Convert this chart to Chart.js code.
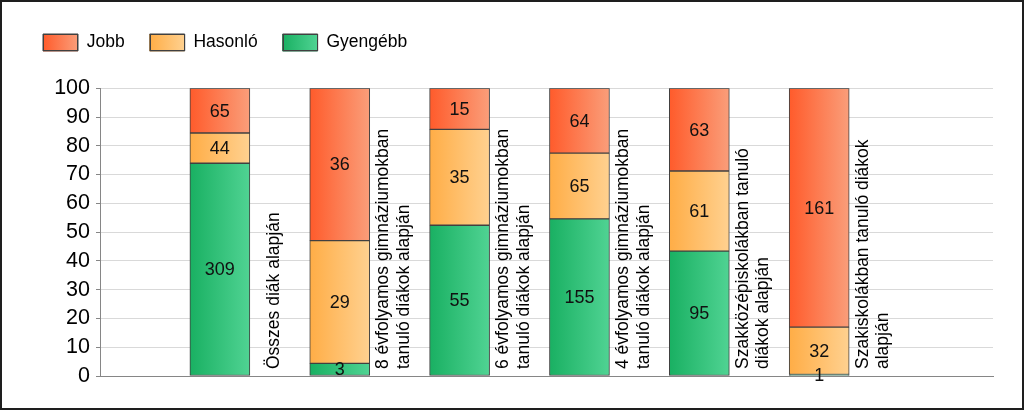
<!DOCTYPE html>
<html>
<head>
<meta charset="utf-8">
<script src="https://cdn.jsdelivr.net/npm/chart.js@4"></script>
<style>
  html, body { margin: 0; padding: 0; background: #fff; }
  #frame { position: relative; width: 1024px; height: 410px; box-sizing: border-box; border: 2px solid #1e1e1e; background: #fff; }
  canvas { display: block; }
</style>
</head>
<body>
<div id="frame"><canvas id="chart" width="1020" height="406"></canvas></div>
<script>
// Category labels (each line of a wrapped label is an item)
const categories = [
  ['Összes diák alapján'],
  ['8 évfolyamos gimnáziumokban', 'tanuló diákok alapján'],
  ['6 évfolyamos gimnáziumokban', 'tanuló diákok alapján'],
  ['4 évfolyamos gimnáziumokban', 'tanuló diákok alapján'],
  ['Szakközépiskolákban tanuló', 'diákok alapján'],
  ['Szakiskolákban tanuló diákok', 'alapján']
];

// Student counts per group (shown on the bars)
const jobb = [65, 36, 15, 64, 63, 161];
const hasonlo = [44, 29, 35, 65, 61, 32];
const gyengebb = [309, 3, 55, 155, 95, 1];

const yTicks = [0, 10, 20, 30, 40, 50, 60, 70, 80, 90, 100];

const FONT = "'Liberation Sans', Arial, sans-serif";
const BAR_W = 60;

// 100% stacked: share of each group within the category
const totals = jobb.map((v, i) => v + hasonlo[i] + gyengebb[i]);
const toPct = arr => arr.map((v, i) => ({ x: i + 1, y: v / totals[i] * 100 }));

const palette = {
  'Jobb': ['#FF5B2B', '#FA9E7A'],
  'Hasonló': ['#FFAD46', '#FFD190'],
  'Gyengébb': ['#19B062', '#50D393']
};

function barGradient(name) {
  return function(ctx) {
    const chart = ctx.chart;
    if (!chart.chartArea || ctx.dataIndex === undefined) return palette[name][0];
    const cx = chart.scales.x.getPixelForValue(ctx.dataIndex + 1);
    const g = chart.ctx.createLinearGradient(cx - BAR_W / 2, 0, cx + BAR_W / 2, 0);
    g.addColorStop(0, palette[name][0]);
    g.addColorStop(1, palette[name][1]);
    return g;
  };
}

const counts = { 'Jobb': jobb, 'Hasonló': hasonlo, 'Gyengébb': gyengebb };

// push the plot area down below the legend
const legendSpacing = {
  id: 'legendSpacing',
  beforeInit(chart) {
    const origFit = chart.legend.fit;
    chart.legend.fit = function fit() {
      origFit.call(this);
      this.height += 27;
    };
  }
};

// count labels in the middle of each segment + rotated category names
const barLabels = {
  id: 'barLabels',
  afterDatasetsDraw(chart) {
    const ctx = chart.ctx;
    ctx.save();
    ctx.fillStyle = '#111';
    ctx.font = '18px ' + FONT;
    ctx.textAlign = 'center';
    ctx.textBaseline = 'middle';
    chart.data.datasets.forEach((ds, di) => {
      const meta = chart.getDatasetMeta(di);
      meta.data.forEach((el, i) => {
        const yMid = (el.y + el.base) / 2;
        ctx.fillText(String(counts[ds.label][i]), el.x, yMid + 1);
      });
    });

    const xScale = chart.scales.x;
    const bottom = chart.chartArea.bottom - 7;
    ctx.fillStyle = '#000';
    ctx.textAlign = 'left';
    ctx.font = '17.5px ' + FONT;
    categories.forEach((lines, i) => {
      const right = xScale.getPixelForValue(i + 1) + BAR_W / 2;
      const lineH = 20.5;
      const first = right + 24 - (lines.length - 1) * lineH / 2;
      lines.forEach((txt, k) => {
        ctx.save();
        ctx.translate(first + k * lineH, bottom);
        ctx.rotate(-Math.PI / 2);
        ctx.fillText(txt, 0, 0);
        ctx.restore();
      });
    });
    ctx.restore();
  }
};

// gradient fill for the legend boxes
const legendBoxes = {
  id: 'legendBoxes',
  afterDraw(chart) {
    const lg = chart.legend;
    if (!lg || !lg.legendHitBoxes) return;
    const ctx = chart.ctx;
    ctx.save();
    lg.legendItems.forEach((item, i) => {
      const hb = lg.legendHitBoxes[i];
      const x = hb.left, y = hb.top + 0.5, w = 35, h = 17;
      const c = palette[item.text];
      const g = ctx.createLinearGradient(x, 0, x + w, 0);
      g.addColorStop(0, c[0]);
      g.addColorStop(1, c[1]);
      ctx.fillStyle = g;
      ctx.fillRect(x, y, w, h);
      ctx.strokeStyle = '#404040';
      ctx.lineWidth = 1;
      ctx.strokeRect(Math.round(x) + 0.5, Math.round(y) + 0.5, w - 1, h - 1);
    });
    ctx.restore();
  }
};

const order = ['Gyengébb', 'Hasonló', 'Jobb'];

new Chart(document.getElementById('chart'), {
  type: 'bar',
  data: {
    datasets: order.map(name => ({
      label: name,
      data: toPct(counts[name]),
      backgroundColor: barGradient(name),
      borderColor: '#404040',
      borderWidth: 1,
      borderSkipped: false,
      barThickness: BAR_W
    }))
  },
  options: {
    responsive: false,
    animation: false,
    layout: { padding: { top: 6.75, left: 16, right: 29, bottom: 24 } },
    plugins: {
      legend: {
        position: 'top',
        align: 'start',
        reverse: true,
        labels: {
          boxWidth: 35,
          boxHeight: 17,
          padding: 25,
          color: '#000',
          font: { family: FONT, size: 17.5 }
        }
      },
      tooltip: { enabled: false }
    },
    scales: {
      x: {
        type: 'linear',
        stacked: true,
        offset: false,
        min: 0,
        max: 7.45,
        ticks: { display: false },
        grid: { display: false, offset: false },
        border: { color: '#868686', width: 1 }
      },
      y: {
        stacked: true,
        min: 0,
        max: 100,
        afterBuildTicks(scale) {
          scale.ticks = yTicks.map(v => ({ value: v }));
        },
        afterFit(scale) {
          scale.width = 82;
        },
        ticks: {
          color: '#000',
          padding: 6,
          autoSkip: false,
          font: { family: FONT, size: 21.5 }
        },
        grid: {
          color: '#d9d9d9',
          tickColor: '#868686',
          tickLength: 4
        },
        border: { color: '#868686', width: 1 }
      }
    }
  },
  plugins: [legendSpacing, barLabels, legendBoxes]
});
</script>
</body>
</html>
